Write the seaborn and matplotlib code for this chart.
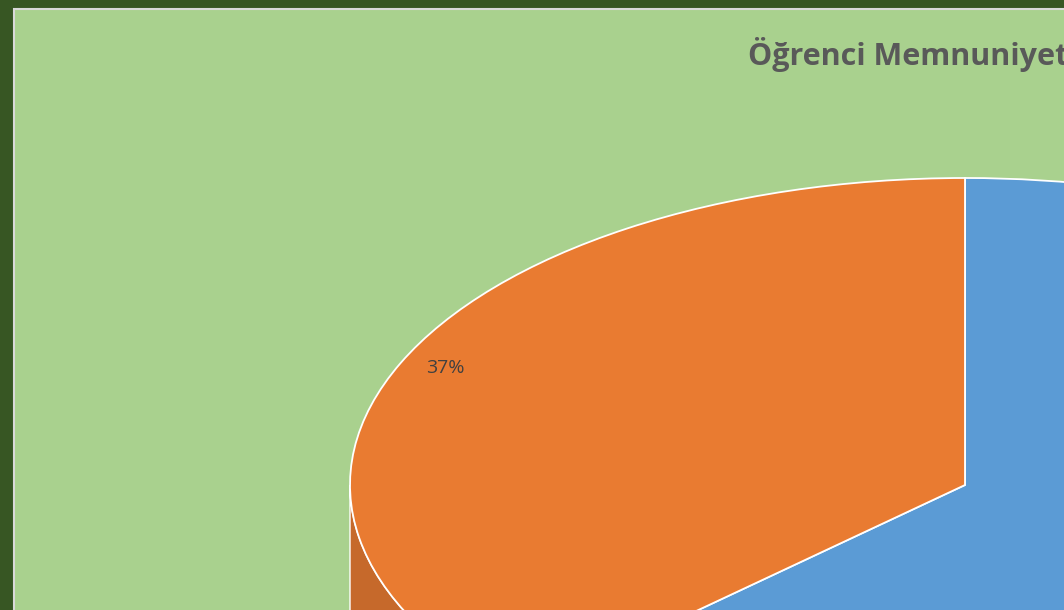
import numpy as np
import seaborn as sns
import matplotlib.pyplot as plt
from matplotlib.patches import Polygon, Rectangle

sns.set_theme(style="white")
plt.rcParams['font.family'] = ['Open Sans', 'DejaVu Sans']

# data
labels = ["Memnun", "Memnun Değil"]
values = [63, 37]
colors = ['#5B9BD5', '#E97B31']
side_colors = ['#41719C', '#C6692B']
title = "Öğrenci Memnuniyeti"

fig = plt.figure(figsize=(10.64, 6.10), dpi=100)
fig.patch.set_facecolor('#375623')

# chart area (cropped frame)
fig.patches.append(Rectangle((14 / 1064, -0.2), 1.2, 1.2 - 9 / 610,
                             transform=fig.transFigure, facecolor='#A9D18E',
                             edgecolor='#D9D9D9', linewidth=1.5, zorder=-1))

ax = fig.add_axes([0, 0, 1, 1])
ax.patch.set_alpha(0)

depth = 0.6
start = 90
theta2 = start
for v, sc in zip(values, side_colors):
    theta1 = theta2 - 360 * v / sum(values)
    # visible front wall: angles between -180 and 0
    for shift in (0, 360, -360):
        a, b = max(theta1 + shift, -180), min(theta2 + shift, 0)
        if a < b:
            t = np.radians(np.linspace(a, b, 100))
            top = np.column_stack([np.cos(t), np.sin(t)])
            bottom = top[::-1] - [0, depth]
            ax.add_patch(Polygon(np.vstack([top, bottom]), closed=True,
                                 facecolor=sc, edgecolor='white', linewidth=1.0,
                                 zorder=1))
    theta2 = theta1

wedges, texts, autotexts = ax.pie(
    values, colors=colors, startangle=start, counterclock=False,
    autopct='%1.0f%%', pctdistance=0.92,
    wedgeprops=dict(edgecolor='white', linewidth=1.3, zorder=2),
    textprops=dict(color='#404040', fontsize=14),
)
for w in wedges:
    w.set_zorder(2)
for t in autotexts:
    t.set_zorder(3)
    t.set_va('baseline')
# the blue slice's label lies outside the cropped view
autotexts[0].set_visible(False)

ax.set_aspect('auto')
ax.set_xlim((0 - 965) / 615, (1064 - 965) / 615)
ax.set_ylim(-(610 - 485) / 307, 485 / 307)
ax.axis('off')

fig.text(748 / 1064, 1 - 54 / 610, title, ha='left', va='center',
         fontsize=22, fontweight='bold', color='#595959')

fig.savefig('out.png', dpi=100, facecolor=fig.get_facecolor())
